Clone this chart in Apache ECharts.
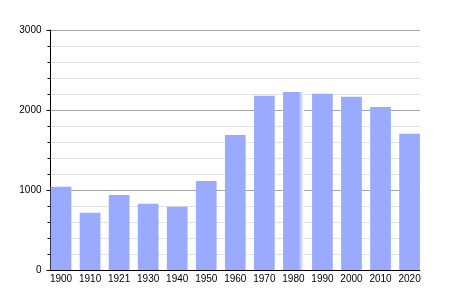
<!DOCTYPE html>
<html>
<head>
<meta charset="utf-8">
<script src="https://cdn.jsdelivr.net/npm/echarts@6/dist/echarts.min.js"></script>
<style>html,body{margin:0;padding:0;background:#fff}#c{width:450px;height:300px}</style>
</head>
<body>
<div id="c"></div>
<script>
const years = ['1900','1910','1921','1930','1940','1950','1960','1970','1980','1990','2000','2010','2020'];
const population = [1040, 716, 937, 829, 792, 1112, 1687, 2178, 2226, 2202, 2166, 2037, 1703];
const yTicks = [0, 1000, 2000, 3000];

const barColor = '#99aaff';
const chart = echarts.init(document.getElementById('c'), null, {renderer: 'canvas'});
const font = 'Liberation Sans, Arial, sans-serif';

chart.setOption({
  animation: false,
  grid: [
    {left: 46.5, right: 25.9, top: 30, bottom: 30},
    {left: 50.5, right: 30, top: 30, bottom: 30}
  ],
  xAxis: [
    {
      gridIndex: 0, type: 'category', data: years,
      axisLine: {show: false}, axisTick: {show: false},
      axisLabel: {color: '#000', fontFamily: font, fontSize: 10, margin: 4, interval: 0}
    },
    {
      gridIndex: 1, type: 'value', min: 0, max: 1,
      axisLine: {show: true, lineStyle: {color: '#000', width: 1}},
      axisTick: {show: false}, axisLabel: {show: false}, splitLine: {show: false}
    }
  ],
  yAxis: [
    {
      gridIndex: 0, type: 'value', min: 0, max: 3000, show: false,
      splitLine: {show: false}
    },
    {
      gridIndex: 1, type: 'value', min: yTicks[0], max: yTicks[yTicks.length - 1], interval: 1000,
      axisLine: {show: true, lineStyle: {color: '#000', width: 1}},
      axisTick: {show: true, length: 4, lineStyle: {color: '#000'}},
      minorTick: {show: true, splitNumber: 5, length: 3, lineStyle: {color: '#000'}},
      axisLabel: {color: '#000', fontFamily: font, fontSize: 10, margin: 9, formatter: v => String(v)},
      splitLine: {show: true, lineStyle: {color: '#a6a6a6', width: 1}},
      minorSplitLine: {show: true, lineStyle: {color: '#e2e2e2', width: 1}}
    }
  ],
  series: [{
    type: 'bar',
    xAxisIndex: 0, yAxisIndex: 0,
    barWidth: 20.7,
    data: population.map((v, i) => years[i] === '1980' ? {
      value: v,
      itemStyle: {color: new echarts.graphic.LinearGradient(0, 0, 1, 0, [
        {offset: 0, color: barColor}, {offset: 0.75, color: barColor}, {offset: 1, color: '#ffffff'}
      ])}
    } : v),
    itemStyle: {color: barColor}
  }]
});
</script>
</body>
</html>
